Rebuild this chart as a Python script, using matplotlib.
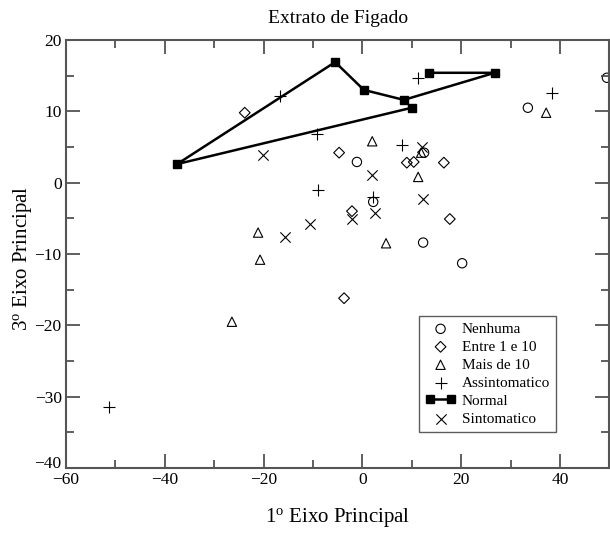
import matplotlib
matplotlib.use("Agg")
import matplotlib.pyplot as plt
from matplotlib.ticker import MultipleLocator

plt.rcParams["font.family"] = ["Liberation Serif", "DejaVu Serif"]
plt.rcParams["mathtext.fontset"] = "custom"
plt.rcParams["mathtext.rm"] = "Liberation Serif"
plt.rcParams["mathtext.it"] = "Liberation Serif:italic"

# Principal-axis scores (1st axis, 3rd axis) per group
nenhuma_x = [49.5, 33.5, -1.1, 12.5, 2.2, 12.3, 20.2]
nenhuma_y = [14.7, 10.5, 2.9, 4.2, -2.7, -8.4, -11.3]

entre_x = [-23.8, -4.7, -2.1, 9.0, 10.4, 16.5, 17.7, -3.7]
entre_y = [9.8, 4.2, -4.0, 2.8, 2.9, 2.8, -5.1, -16.2]

mais_x = [2.0, 11.9, 11.3, 4.8, -21.1, -20.7, -26.4, 37.2]
mais_y = [5.8, 4.2, 0.8, -8.5, -7.0, -10.8, -19.5, 9.8]

assint_x = [-16.7, -9.2, -9.0, 8.0, 2.1, 11.3, 38.4, -51.3]
assint_y = [12.1, 6.8, -1.0, 5.3, -2.0, 14.7, 12.6, -31.5]

normal_x = [13.5, 26.8, 8.4, 0.3, -5.5, -37.5, 10.0]
normal_y = [15.4, 15.4, 11.6, 13.0, 16.9, 2.6, 10.5]

sint_x = [-20.1, 12.0, 1.9, 12.3, -2.1, 2.6, -15.7, -10.6]
sint_y = [3.9, 5.0, 1.1, -2.3, -5.1, -4.3, -7.6, -5.8]

fig = plt.figure(figsize=(6.10, 5.33), dpi=100)
ax = fig.add_axes([0.108, 0.122, 0.891, 0.803])

kw = dict(facecolor="none", edgecolors="black", linewidths=0.8, s=45)
h1 = ax.scatter(nenhuma_x, nenhuma_y, marker="o", label="Nenhuma", **kw)
h2 = ax.scatter(entre_x, entre_y, marker="D", label="Entre 1 e 10",
                facecolor="none", edgecolors="black", linewidths=0.8, s=30)
h3 = ax.scatter(mais_x, mais_y, marker="^", label="Mais de 10", **kw)
h4 = ax.scatter(assint_x, assint_y, marker="+", label="Assintomatico",
                c="black", linewidths=0.8, s=80)
h5, = ax.plot(normal_x, normal_y, color="black", lw=1.8, marker="s",
              markersize=6, label="Normal")
h6 = ax.scatter(sint_x, sint_y, marker="x", label="Sintomatico",
                c="black", linewidths=0.8, s=55)

ax.set_xlim(-60, 50)
ax.set_ylim(-40, 20)
ax.xaxis.set_major_locator(MultipleLocator(20))
ax.xaxis.set_minor_locator(MultipleLocator(10))
ax.yaxis.set_major_locator(MultipleLocator(10))
ax.yaxis.set_minor_locator(MultipleLocator(5))
ax.tick_params(which="both", direction="in", top=True, right=True,
               labelsize=12.5, colors="#444444", labelcolor="black")
ax.tick_params(which="major", length=10, width=1.2, pad=3)
ax.tick_params(which="minor", length=6, width=1.2)
for s in ax.spines.values():
    s.set_linewidth(1.5)
    s.set_color("#555555")

ax.set_title("Extrato de Figado", fontsize=14, pad=12)
ax.set_xlabel(r"1$^{\rm o}$ Eixo Principal", fontsize=15)
ax.set_ylabel(r"3$^{\rm o}$ Eixo Principal", fontsize=15)
ax.xaxis.set_label_coords(0.5, -0.09)
ax.yaxis.set_label_coords(-0.058, 0.49)

# keep the lowest y tick label clear of the x tick labels
fig.canvas.draw()
for tick in ax.yaxis.get_major_ticks():
    if abs(tick.get_loc() - (-40)) < 1e-6:
        tick.label1.set_verticalalignment("baseline")

leg = ax.legend(handles=[h1, h2, h3, h4, h5, h6], loc="upper left",
                bbox_to_anchor=(0.65, 0.355), fontsize=11, numpoints=2,
                scatterpoints=1, frameon=True, fancybox=False,
                handlelength=2.0, handletextpad=0.4, labelspacing=0.28,
                borderpad=0.4, borderaxespad=0)
leg.get_frame().set_edgecolor("#333333")
leg.get_frame().set_linewidth(1.0)

fig.savefig("out.png", dpi=100)
